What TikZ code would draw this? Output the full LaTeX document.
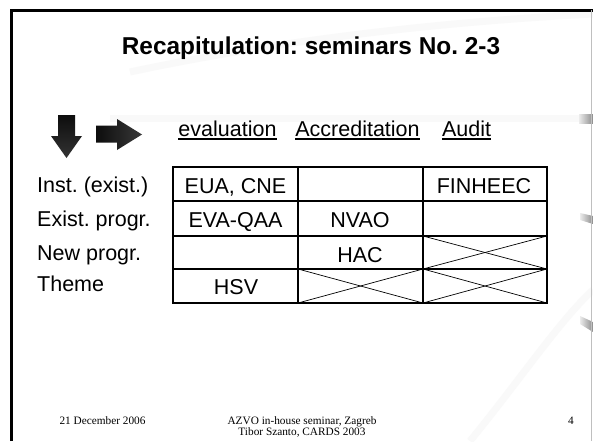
\documentclass[tikz,border=0pt]{standalone}
\usepackage{fontspec}
\setmainfont{Liberation Sans}
\newfontfamily\footfont{Liberation Serif}
\usepackage{tikz}
\frenchspacing

\begin{document}
\begin{tikzpicture}[x=1pt,y=-1pt,
                txt/.style={font=\fontsize{21.5}{24}\selectfont, inner sep=0pt},
                rowlabel/.style={txt, anchor=base west},
                cell/.style={txt, anchor=base},
                grid/.style={line width=1.3pt},
                cross/.style={line width=0.7pt},
                foot/.style={font=\footfont\fontsize{11.3}{12}\selectfont, inner sep=0pt, anchor=base},
                swoosh/.style={black!2.5, line width=7pt}]
                \useasboundingbox (0,0) rectangle (593,441);
                \fill [white] (0,0) rectangle (593,441);

                % faint background swooshes
                \draw [swoosh] (130,72) .. controls (280,40) and (440,22) .. (593,14);
                \draw [swoosh] (110,118) -- (593,118);
                \draw [swoosh] (470,441) .. controls (520,380) and (560,320) .. (593,290);
                \shade [left color=black!8, right color=black!45] (579,114) rectangle (593,123);
                \shade [left color=black!8, right color=black!45] (580,213) -- (593,216) -- (593,224) -- (580,220) -- cycle;
                \shade [left color=black!8, right color=black!45] (580,316) -- (593,322) -- (593,332) -- (580,324) -- cycle;

                % frame
                \draw [line width=2.5pt] (11.5,441) -- (11.5,10.5) -- (593,10.5);
                \draw [black!25] (591.5,10.5) -- (591.5,441);

                \node [font=\bfseries\fontsize{24.4}{28}\selectfont, anchor=base, inner sep=0pt] (title) at (311,55) {Recapitulation: seminars No. 2-3};

                % arrows
                \shade [top color=black!95, bottom color=black!80] (58,115) -- (75,115) -- (75,136) -- (82,136) -- (66.5,158) -- (51,136) -- (58,136) -- cycle;
                \shade [left color=black!95, right color=black!78] (96,125.5) -- (117,125.5) -- (117,119) -- (142,134.5) -- (117,150) -- (117,142.5) -- (96,142.5) -- cycle;

                % column heads
                \node [cell] (evalhead) at (227.5,136) {evaluation};
                \node [cell] (accrhead) at (357.5,136) {Accreditation};
                \node [cell] (audithead) at (466.5,136) {Audit};
                \foreach \h in {evalhead,accrhead,audithead}
                    \draw [line width=1.4pt] ([yshift=-3pt]\h.base west) -- ([yshift=-3pt]\h.base east);

                % row labels
                \node [rowlabel] (instrow) at (37,192) {Inst. (exist.)};
                \node [rowlabel] (progrow) at (37,226) {Exist. progr.};
                \node [rowlabel] (newrow) at (37,260) {New progr.};
                \node [rowlabel] (themerow) at (37,291) {Theme};

                % table
                \foreach \xa/\ya/\xb/\yb in {423/236/547/269, 298/269/423/303, 423/269/547/303}
                {
                    \draw [cross] (\xa,\ya) -- (\xb,\yb);
                    \draw [cross] (\xa,\yb) -- (\xb,\ya);
                }
                \foreach \y in {201,236,269}
                    \draw [grid] (173,\y) -- (547,\y);
                \foreach \x in {298,423}
                    \draw [grid] (\x,167) -- (\x,303);
                \draw [line width=1.8pt] (173,167) rectangle (547,303);

                \node [cell] (euacne) at (235.5,193) {EUA, CNE};
                \node [cell] (finheec) at (484,193) {FINHEEC};
                \node [cell] (evaqaa) at (235.5,227) {EVA-QAA};
                \node [cell] (nvao) at (360,227) {NVAO};
                \node [cell] (hac) at (360,262) {HAC};
                \node [cell] (hsv) at (236,294) {HSV};

                % footer
                \node [foot] (date) at (102.5,424) {21 December 2006};
                \node [foot] (event) at (302,424) {AZVO in-house seminar, Zagreb};
                \node [foot] (author) at (302,435) {Tibor Szanto, CARDS 2003};
                \node [foot] (page) at (571,424) {4};
            \end{tikzpicture}
\end{document}
